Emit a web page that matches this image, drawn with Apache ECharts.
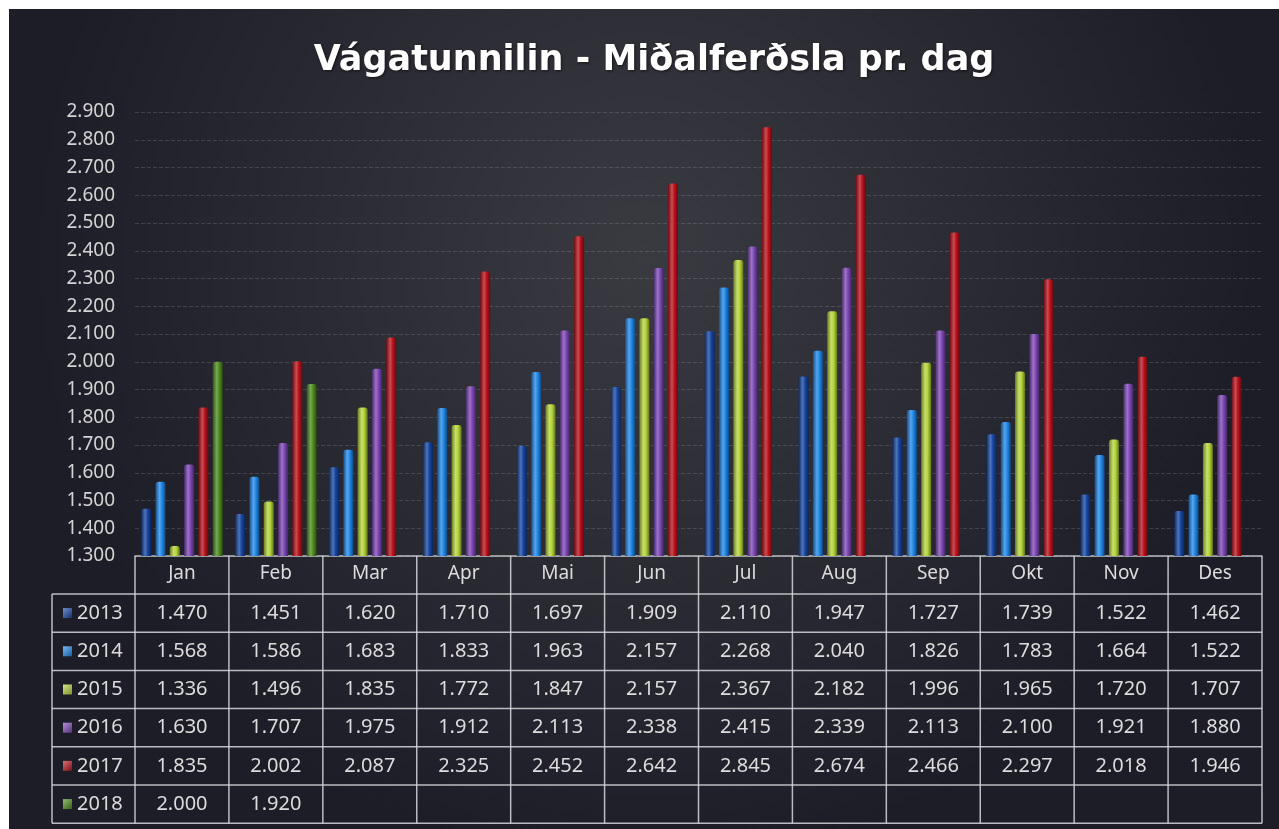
<!DOCTYPE html>
<html><head><meta charset="utf-8">
<script src="https://cdn.jsdelivr.net/npm/echarts@6/dist/echarts.min.js"></script>
<style>html,body{margin:0;padding:0;background:#fff}#c{width:1279px;height:829px}</style>
</head><body><div id="c"></div>
<script>
const months = ['Jan','Feb','Mar','Apr','Mai','Jun','Jul','Aug','Sep','Okt','Nov','Des'];
const years = ['2013','2014','2015','2016','2017','2018'];
const v2013 = [1470,1451,1620,1710,1697,1909,2110,1947,1727,1739,1522,1462];
const v2014 = [1568,1586,1683,1833,1963,2157,2268,2040,1826,1783,1664,1522];
const v2015 = [1336,1496,1835,1772,1847,2157,2367,2182,1996,1965,1720,1707];
const v2016 = [1630,1707,1975,1912,2113,2338,2415,2339,2113,2100,1921,1880];
const v2017 = [1835,2002,2087,2325,2452,2642,2845,2674,2466,2297,2018,1946];
const v2018 = [2000,1920,null,null,null,null,null,null,null,null,null,null];
const yMin = 1300, yMax = 2900, yStep = 100;

const seriesData = [v2013,v2014,v2015,v2016,v2017,v2018];
const colors = ['#1646a2','#1f87e8','#b4d43a','#7c46b4','#b8121c','#4e8b1d'];

function fmt(v){ return Math.floor(v/1000)+'.'+String(v%1000).padStart(3,'0'); }
function shade(hex, f){
  const n=parseInt(hex.slice(1),16); let r=n>>16,g=(n>>8)&255,b=n&255;
  const m=c=>Math.max(0,Math.min(255,Math.round(f>1? c+(255-c)*(f-1): c*f)));
  return 'rgb('+m(r)+','+m(g)+','+m(b)+')';
}

const L = {left:135, right:1262, top:112, axisY:556, rowTop:594, rowH:38.2, legLeft:52};
const colW = (L.right-L.left)/months.length;
const lineCol = 'rgba(215,215,220,0.85)';
const textCol = '#dcdcdc';
const font = '"Noto Sans", "Open Sans", sans-serif';

const graphic = [];
graphic.push({type:'rect', z:-100, silent:true, shape:{x:9,y:9,width:1270,height:820},
  style:{fill:{type:'radial',x:0.5,y:0.3,r:0.75,colorStops:[{offset:0,color:'#3a3a41'},{offset:1,color:'#1d1d28'}]}}});
const tableBottom = L.rowTop + years.length*L.rowH;
for(let k=0;k<=years.length;k++){
  const y=L.rowTop+k*L.rowH;
  graphic.push({type:'line',silent:true,shape:{x1:L.legLeft,y1:y,x2:L.right,y2:y},style:{stroke:lineCol,lineWidth:1.5}});
}
graphic.push({type:'line',silent:true,shape:{x1:L.legLeft,y1:L.rowTop,x2:L.legLeft,y2:tableBottom},style:{stroke:lineCol,lineWidth:1.5}});
for(let i=0;i<=months.length;i++){
  const x=L.left+i*colW;
  graphic.push({type:'line',silent:true,shape:{x1:x,y1:L.axisY,x2:x,y2:tableBottom},style:{stroke:lineCol,lineWidth:1.5}});
}
years.forEach((yr,r)=>{
  const cy=L.rowTop+(r+0.5)*L.rowH;
  graphic.push({type:'rect',silent:true,shape:{x:63,y:cy-5,width:9,height:10},
    style:{fill:{type:'linear',x:0,y:0,x2:1,y2:1,colorStops:[{offset:0,color:shade(colors[r],1.4)},{offset:1,color:shade(colors[r],0.7)}]}}});
  graphic.push({type:'text',silent:true,x:77,y:cy,style:{text:yr,fill:textCol,font:'20px '+font,verticalAlign:'middle',align:'left'}});
  seriesData[r].forEach((v,m)=>{
    if(v==null) return;
    graphic.push({type:'text',silent:true,x:L.left+(m+0.5)*colW,y:cy,
      style:{text:fmt(v),fill:textCol,font:'20px '+font,align:'center',verticalAlign:'middle'}});
  });
});

const series = years.map((yr,i)=>({
  name:yr, type:'bar', data:seriesData[i], barWidth:10, barGap:'43%',
  itemStyle:{borderRadius:[3,3,0,0],
    color:{type:'linear',x:0,y:0,x2:1,y2:0,colorStops:[
      {offset:0,color:shade(colors[i],0.6)},{offset:0.4,color:shade(colors[i],1.25)},
      {offset:0.65,color:colors[i]},{offset:1,color:shade(colors[i],0.55)}]}}
}));

const chart = echarts.init(document.getElementById('c'));
chart.setOption({
  animation:false,
  backgroundColor:'#ffffff',
  title:{text:'Vágatunnilin - Miðalferðsla pr. dag',left:649,top:38,textAlign:'center',
    textStyle:{color:'#ffffff',fontSize:35,fontWeight:'bold',fontFamily:'"DejaVu Sans", sans-serif',
      textShadowColor:'rgba(0,0,0,0.6)',textShadowBlur:3,textShadowOffsetX:1,textShadowOffsetY:1}},
  grid:{left:L.left,right:1279-L.right,top:L.top,bottom:829-L.axisY},
  xAxis:{type:'category',data:months,
    axisLine:{show:true,lineStyle:{color:lineCol,width:1.5}},axisTick:{show:false},
    axisLabel:{color:textCol,fontSize:19,fontFamily:font,margin:8,interval:0}},
  yAxis:{type:'value',min:yMin,max:yMax,interval:yStep,
    axisLine:{show:false},axisTick:{show:false},
    axisLabel:{color:'#d4d4d4',fontSize:19,fontFamily:font,margin:20,formatter:v=>fmt(v)},
    splitLine:{show:true,lineStyle:{color:'rgba(190,190,200,0.2)',type:'dashed',width:1}}},
  series:series,
  graphic:graphic
});
</script></body></html>
